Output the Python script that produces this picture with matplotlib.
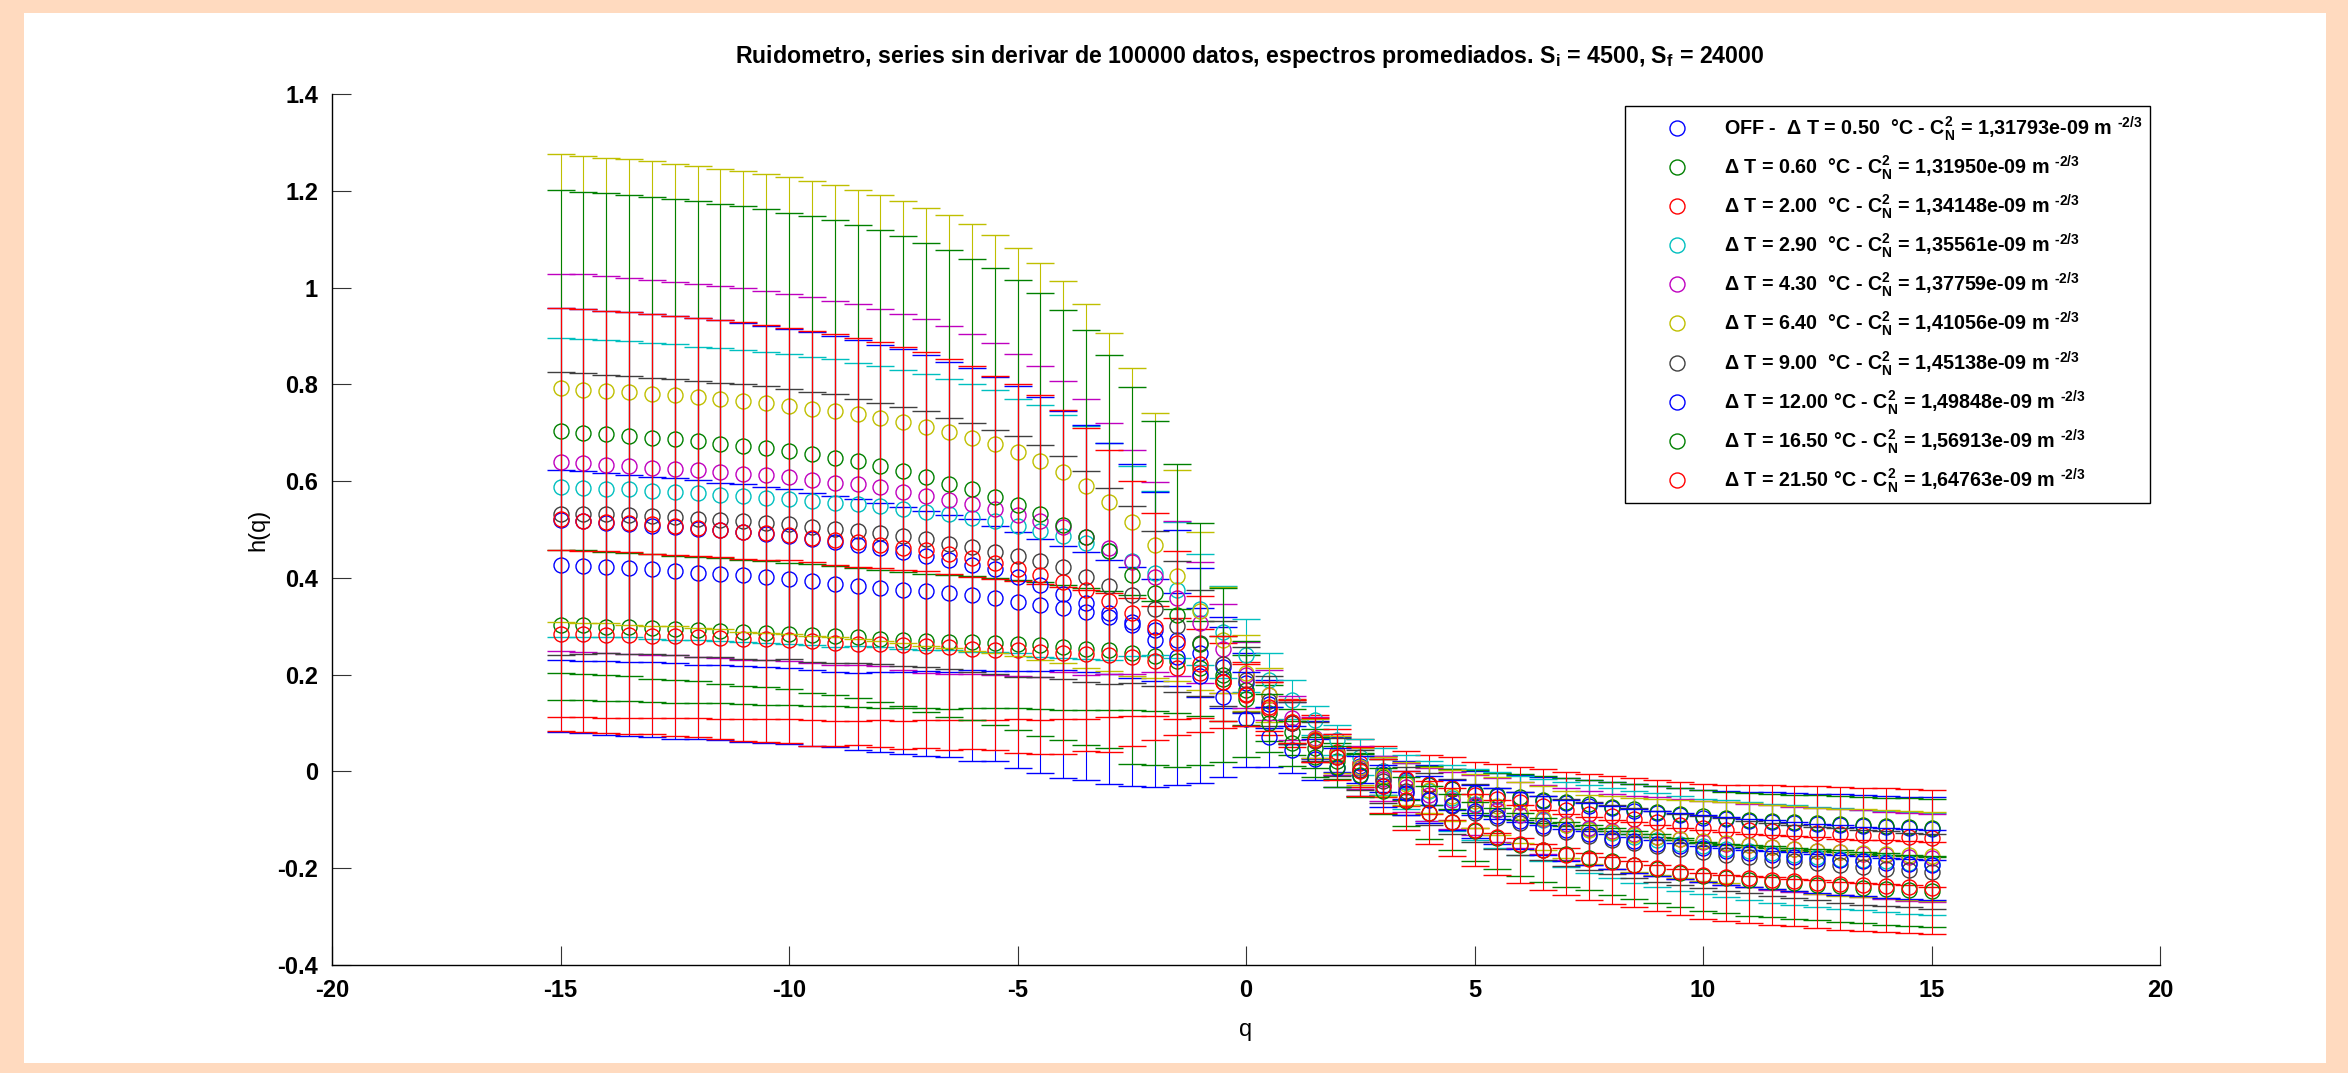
import numpy as np
import matplotlib
matplotlib.use('Agg')
import matplotlib.pyplot as plt
from matplotlib.patches import Rectangle

plt.rcParams['font.family'] = ['Liberation Sans', 'DejaVu Sans']
plt.rcParams['font.weight'] = 'bold'
plt.rcParams['axes.unicode_minus'] = False
plt.rcParams['mathtext.fontset'] = 'custom'
plt.rcParams['mathtext.rm'] = 'Liberation Sans:bold'
plt.rcParams['mathtext.it'] = 'Liberation Sans:bold:italic'
plt.rcParams['mathtext.bf'] = 'Liberation Sans:bold'
plt.rcParams['mathtext.default'] = 'rm'

q = np.arange(-15, 15.5, 0.5)

# h(q) and error for each temperature step (blue, green, red, cyan, magenta, yellow, gray, blue, green, red)
h_off = [0.427, 0.424, 0.422, 0.420, 0.418, 0.415, 0.411, 0.409, 0.405, 0.402, 0.398, 0.393, 0.388, 0.384, 0.380, 0.376, 0.373, 0.368, 0.365, 0.358, 0.351, 0.344,
         0.338, 0.330, 0.320, 0.308, 0.292, 0.272, 0.245, 0.215, 0.182,
         0.140, 0.100, 0.065, 0.035, 0.012, -0.005, -0.018, -0.028, -0.037, -0.044, -0.051, -0.056, -0.061, -0.066, -0.071, -0.076, -0.081, -0.086, -0.091, -0.096, -0.099, -0.102, -0.104, -0.106, -0.108, -0.110, -0.112, -0.114, -0.116, -0.118]
e_off = [0.196, 0.196, 0.194, 0.193, 0.191, 0.191, 0.191, 0.188, 0.188, 0.186, 0.185, 0.183, 0.182, 0.180, 0.174, 0.171, 0.166, 0.162, 0.156, 0.150, 0.143, 0.136,
         0.128, 0.124, 0.118, 0.114, 0.106, 0.096, 0.092, 0.083, 0.062,
         0.050, 0.043, 0.039, 0.037, 0.036, 0.037, 0.039, 0.041, 0.043, 0.045, 0.047, 0.049, 0.050, 0.052, 0.053, 0.054, 0.055, 0.056, 0.057, 0.058, 0.059, 0.060, 0.061, 0.061, 0.062, 0.063, 0.063, 0.064, 0.064, 0.065]

h_060 = [0.303, 0.302, 0.299, 0.298, 0.296, 0.294, 0.292, 0.291, 0.289, 0.286, 0.284, 0.282, 0.280, 0.277, 0.274, 0.272, 0.270, 0.268, 0.267, 0.265, 0.263, 0.261,
         0.257, 0.254, 0.250, 0.245, 0.238, 0.228, 0.213, 0.192, 0.168,
         0.120, 0.082, 0.048, 0.022, 0.003, -0.011, -0.021, -0.029, -0.036, -0.042, -0.048, -0.053, -0.058, -0.063, -0.068, -0.073, -0.078, -0.083, -0.088, -0.093, -0.097, -0.100, -0.103, -0.105, -0.107, -0.109, -0.111, -0.113, -0.115, -0.117]
e_060 = [0.155, 0.155, 0.154, 0.153, 0.153, 0.152, 0.151, 0.150, 0.149, 0.148, 0.147, 0.146, 0.145, 0.144, 0.142, 0.141, 0.139, 0.138, 0.136, 0.134, 0.132, 0.131,
         0.129, 0.126, 0.123, 0.119, 0.114, 0.107, 0.098, 0.087, 0.073,
         0.058, 0.047, 0.040, 0.037, 0.036, 0.037, 0.039, 0.041, 0.042, 0.044, 0.045, 0.047, 0.048, 0.049, 0.050, 0.051, 0.052, 0.053, 0.054, 0.054, 0.055, 0.056, 0.056, 0.057, 0.058, 0.058, 0.059, 0.059, 0.060, 0.060]

h_200 = [0.285, 0.284, 0.283, 0.282, 0.280, 0.279, 0.278, 0.276, 0.274, 0.273, 0.272, 0.269, 0.266, 0.264, 0.263, 0.261, 0.260, 0.257, 0.254, 0.252, 0.251, 0.247,
         0.245, 0.242, 0.240, 0.237, 0.228, 0.213, 0.203, 0.185, 0.160,
         0.130, 0.100, 0.068, 0.040, 0.018, 0.000, -0.015, -0.026, -0.035, -0.048, -0.056, -0.064, -0.072, -0.080, -0.087, -0.093, -0.099, -0.105, -0.111, -0.117, -0.120, -0.122, -0.124, -0.126, -0.128, -0.130, -0.132, -0.134, -0.136, -0.138]
e_200 = [0.173, 0.172, 0.172, 0.171, 0.170, 0.169, 0.168, 0.167, 0.166, 0.165, 0.164, 0.163, 0.161, 0.159, 0.157, 0.156, 0.154, 0.151, 0.148, 0.146, 0.143, 0.140,
         0.137, 0.133, 0.128, 0.122, 0.114, 0.104, 0.092, 0.080, 0.066,
         0.055, 0.050, 0.048, 0.048, 0.050, 0.053, 0.057, 0.061, 0.065, 0.068, 0.071, 0.074, 0.077, 0.079, 0.082, 0.084, 0.086, 0.088, 0.090, 0.092, 0.093, 0.094, 0.095, 0.096, 0.097, 0.098, 0.098, 0.099, 0.099, 0.100]

h_290 = [0.587, 0.586, 0.584, 0.583, 0.580, 0.577, 0.575, 0.572, 0.569, 0.566, 0.563, 0.559, 0.555, 0.552, 0.548, 0.542, 0.536, 0.531, 0.524, 0.517, 0.507, 0.497,
         0.486, 0.473, 0.455, 0.435, 0.410, 0.375, 0.335, 0.288, 0.240,
         0.189, 0.148, 0.106, 0.065, 0.030, 0.000, -0.022, -0.040, -0.055, -0.068, -0.080, -0.091, -0.101, -0.110, -0.119, -0.127, -0.135, -0.142, -0.149, -0.155, -0.160, -0.165, -0.169, -0.173, -0.177, -0.180, -0.183, -0.186, -0.189, -0.191]
e_290 = [0.309, 0.308, 0.307, 0.306, 0.306, 0.306, 0.303, 0.303, 0.302, 0.301, 0.300, 0.298, 0.297, 0.293, 0.290, 0.288, 0.286, 0.281, 0.277, 0.271, 0.262, 0.261,
         0.251, 0.241, 0.224, 0.196, 0.170, 0.140, 0.115, 0.095, 0.076,
         0.055, 0.040, 0.030, 0.031, 0.038, 0.048, 0.055, 0.062, 0.068, 0.073, 0.078, 0.082, 0.085, 0.088, 0.091, 0.093, 0.095, 0.097, 0.098, 0.099, 0.100, 0.101, 0.102, 0.103, 0.103, 0.104, 0.104, 0.105, 0.105, 0.106]

h_430 = [0.639, 0.637, 0.634, 0.631, 0.628, 0.626, 0.622, 0.619, 0.615, 0.612, 0.608, 0.602, 0.597, 0.593, 0.587, 0.577, 0.569, 0.561, 0.553, 0.542, 0.530, 0.517,
         0.506, 0.485, 0.461, 0.433, 0.402, 0.358, 0.307, 0.254, 0.200,
         0.158, 0.110, 0.070, 0.035, 0.008, -0.015, -0.033, -0.048, -0.060, -0.070, -0.080, -0.090, -0.099, -0.108, -0.117, -0.124, -0.130, -0.135, -0.140, -0.145, -0.149, -0.153, -0.157, -0.161, -0.164, -0.167, -0.170, -0.173, -0.176, -0.178]
e_430 = [0.390, 0.390, 0.389, 0.389, 0.388, 0.386, 0.386, 0.384, 0.384, 0.381, 0.379, 0.378, 0.376, 0.372, 0.369, 0.368, 0.365, 0.359, 0.351, 0.343, 0.333, 0.321,
         0.301, 0.285, 0.260, 0.231, 0.196, 0.160, 0.125, 0.092, 0.068,
         0.052, 0.045, 0.042, 0.042, 0.044, 0.047, 0.051, 0.055, 0.059, 0.062, 0.066, 0.069, 0.072, 0.074, 0.076, 0.078, 0.080, 0.082, 0.083, 0.084, 0.085, 0.086, 0.087, 0.088, 0.089, 0.089, 0.090, 0.090, 0.091, 0.091]

h_640 = [0.792, 0.789, 0.787, 0.784, 0.781, 0.778, 0.774, 0.770, 0.765, 0.761, 0.756, 0.750, 0.745, 0.738, 0.730, 0.722, 0.712, 0.702, 0.690, 0.677, 0.660, 0.641,
         0.619, 0.590, 0.557, 0.516, 0.467, 0.404, 0.332, 0.272, 0.203,
         0.158, 0.103, 0.068, 0.035, 0.010, -0.010, -0.025, -0.038, -0.050, -0.061, -0.072, -0.084, -0.097, -0.110, -0.120, -0.126, -0.131, -0.136, -0.140, -0.144, -0.147, -0.152, -0.156, -0.160, -0.164, -0.167, -0.169, -0.171, -0.173, -0.175]
e_640 = [0.484, 0.483, 0.481, 0.481, 0.480, 0.478, 0.477, 0.476, 0.476, 0.474, 0.472, 0.471, 0.467, 0.464, 0.461, 0.457, 0.453, 0.447, 0.441, 0.432, 0.422, 0.410,
         0.394, 0.377, 0.350, 0.318, 0.273, 0.218, 0.163, 0.110, 0.079,
         0.055, 0.045, 0.040, 0.038, 0.038, 0.040, 0.044, 0.048, 0.052, 0.056, 0.060, 0.063, 0.066, 0.069, 0.072, 0.075, 0.077, 0.079, 0.081, 0.083, 0.084, 0.086, 0.087, 0.088, 0.089, 0.090, 0.091, 0.091, 0.092, 0.092]

h_900 = [0.533, 0.533, 0.532, 0.530, 0.528, 0.525, 0.522, 0.520, 0.517, 0.513, 0.511, 0.506, 0.502, 0.497, 0.492, 0.486, 0.480, 0.471, 0.463, 0.454, 0.445, 0.435,
         0.422, 0.402, 0.383, 0.365, 0.336, 0.300, 0.265, 0.223, 0.190,
         0.145, 0.100, 0.062, 0.030, 0.003, -0.020, -0.040, -0.057, -0.072, -0.085, -0.097, -0.107, -0.117, -0.126, -0.134, -0.141, -0.148, -0.155, -0.161, -0.167, -0.172, -0.177, -0.182, -0.186, -0.190, -0.194, -0.198, -0.201, -0.204, -0.207]
e_900 = [0.292, 0.290, 0.288, 0.287, 0.286, 0.285, 0.285, 0.283, 0.284, 0.283, 0.279, 0.279, 0.277, 0.273, 0.270, 0.268, 0.264, 0.260, 0.257, 0.252, 0.249, 0.240,
         0.230, 0.218, 0.203, 0.183, 0.160, 0.135, 0.110, 0.088, 0.068,
         0.052, 0.043, 0.040, 0.040, 0.042, 0.045, 0.049, 0.053, 0.057, 0.060, 0.063, 0.065, 0.067, 0.069, 0.070, 0.071, 0.072, 0.073, 0.074, 0.074, 0.075, 0.075, 0.076, 0.076, 0.076, 0.077, 0.077, 0.077, 0.077, 0.077]

h_1200 = [0.520, 0.517, 0.514, 0.511, 0.508, 0.505, 0.502, 0.498, 0.494, 0.490, 0.486, 0.480, 0.475, 0.468, 0.461, 0.454, 0.446, 0.438, 0.427, 0.418, 0.402, 0.385,
          0.366, 0.349, 0.327, 0.303, 0.272, 0.236, 0.198, 0.154, 0.108,
          0.072, 0.045, 0.025, 0.008, -0.010, -0.030, -0.045, -0.058, -0.070, -0.082, -0.092, -0.102, -0.112, -0.122, -0.130, -0.137, -0.143, -0.149, -0.154, -0.159, -0.164, -0.168, -0.172, -0.176, -0.180, -0.183, -0.186, -0.189, -0.191, -0.193]
e_1200 = [0.438, 0.438, 0.438, 0.438, 0.437, 0.437, 0.435, 0.434, 0.433, 0.431, 0.429, 0.428, 0.425, 0.424, 0.421, 0.418, 0.414, 0.409, 0.406, 0.397, 0.394, 0.388,
          0.379, 0.367, 0.352, 0.333, 0.305, 0.264, 0.222, 0.166, 0.098,
          0.062, 0.048, 0.042, 0.040, 0.041, 0.043, 0.046, 0.049, 0.052, 0.055, 0.057, 0.059, 0.061, 0.063, 0.064, 0.065, 0.066, 0.067, 0.068, 0.069, 0.070, 0.070, 0.071, 0.071, 0.072, 0.072, 0.072, 0.073, 0.073, 0.073]

h_1650 = [0.703, 0.700, 0.697, 0.694, 0.690, 0.686, 0.682, 0.677, 0.672, 0.668, 0.662, 0.655, 0.648, 0.641, 0.631, 0.621, 0.608, 0.595, 0.583, 0.568, 0.551, 0.531,
          0.509, 0.484, 0.455, 0.405, 0.369, 0.323, 0.263, 0.200, 0.150,
          0.100, 0.058, 0.030, 0.010, -0.008, -0.040, -0.062, -0.085, -0.105, -0.124, -0.138, -0.151, -0.162, -0.171, -0.178, -0.186, -0.193, -0.201, -0.209, -0.217, -0.221, -0.225, -0.228, -0.231, -0.234, -0.237, -0.240, -0.243, -0.246, -0.248]
e_1650 = [0.499, 0.498, 0.498, 0.497, 0.498, 0.497, 0.496, 0.496, 0.496, 0.494, 0.492, 0.493, 0.491, 0.489, 0.488, 0.485, 0.485, 0.482, 0.477, 0.472, 0.465, 0.458,
          0.445, 0.429, 0.406, 0.390, 0.355, 0.313, 0.250, 0.180, 0.120,
          0.060, 0.046, 0.042, 0.042, 0.044, 0.047, 0.051, 0.055, 0.058, 0.061, 0.063, 0.065, 0.066, 0.067, 0.068, 0.069, 0.070, 0.071, 0.071, 0.072, 0.072, 0.073, 0.073, 0.073, 0.074, 0.074, 0.074, 0.074, 0.074, 0.074]

h_2150 = [0.521, 0.518, 0.516, 0.513, 0.511, 0.508, 0.504, 0.500, 0.495, 0.492, 0.488, 0.482, 0.478, 0.475, 0.469, 0.462, 0.458, 0.449, 0.442, 0.431, 0.419, 0.407,
          0.392, 0.376, 0.352, 0.327, 0.299, 0.265, 0.222, 0.185, 0.158,
          0.134, 0.103, 0.065, 0.030, 0.000, -0.030, -0.060, -0.085, -0.105, -0.121, -0.136, -0.150, -0.162, -0.172, -0.180, -0.187, -0.193, -0.200, -0.207, -0.213, -0.218, -0.221, -0.224, -0.227, -0.230, -0.233, -0.235, -0.237, -0.238, -0.240]
e_2150 = [0.437, 0.437, 0.436, 0.436, 0.434, 0.434, 0.433, 0.433, 0.433, 0.431, 0.429, 0.429, 0.425, 0.421, 0.418, 0.415, 0.409, 0.404, 0.396, 0.387, 0.381, 0.370,
          0.355, 0.333, 0.312, 0.274, 0.235, 0.190, 0.140, 0.095, 0.065,
          0.050, 0.045, 0.045, 0.047, 0.050, 0.055, 0.060, 0.065, 0.070, 0.074, 0.077, 0.080, 0.082, 0.084, 0.086, 0.087, 0.088, 0.089, 0.090, 0.091, 0.092, 0.092, 0.093, 0.093, 0.094, 0.094, 0.094, 0.095, 0.095, 0.095]

labels = [
    'OFF -  \u0394 T = 0.50  \u00b0C - C$_{N}^{2}$ = 1,31793e-09 m $^{\\text{-2/3}}$',
    '\u0394 T = 0.60  \u00b0C - C$_{N}^{2}$ = 1,31950e-09 m $^{\\text{-2/3}}$',
    '\u0394 T = 2.00  \u00b0C - C$_{N}^{2}$ = 1,34148e-09 m $^{\\text{-2/3}}$',
    '\u0394 T = 2.90  \u00b0C - C$_{N}^{2}$ = 1,35561e-09 m $^{\\text{-2/3}}$',
    '\u0394 T = 4.30  \u00b0C - C$_{N}^{2}$ = 1,37759e-09 m $^{\\text{-2/3}}$',
    '\u0394 T = 6.40  \u00b0C - C$_{N}^{2}$ = 1,41056e-09 m $^{\\text{-2/3}}$',
    '\u0394 T = 9.00  \u00b0C - C$_{N}^{2}$ = 1,45138e-09 m $^{\\text{-2/3}}$',
    '\u0394 T = 12.00 \u00b0C - C$_{N}^{2}$ = 1,49848e-09 m $^{\\text{-2/3}}$',
    '\u0394 T = 16.50 \u00b0C - C$_{N}^{2}$ = 1,56913e-09 m $^{\\text{-2/3}}$',
    '\u0394 T = 21.50 \u00b0C - C$_{N}^{2}$ = 1,64763e-09 m $^{\\text{-2/3}}$',
]
series_h = [h_off, h_060, h_200, h_290, h_430, h_640, h_900, h_1200, h_1650, h_2150]
series_e = [e_off, e_060, e_200, e_290, e_430, e_640, e_900, e_1200, e_1650, e_2150]
# old matlab colour order b g r c m y k
colors = [(0, 0, 1), (0, 0.5, 0), (1, 0, 0), (0, 0.75, 0.75), (0.75, 0, 0.75),
          (0.75, 0.75, 0), (0.25, 0.25, 0.25), (0, 0, 1), (0, 0.5, 0), (1, 0, 0)]

W, H = 2348, 1073
fig = plt.figure(figsize=(W / 100, H / 100), dpi=100)
fig.patch.set_facecolor('#FFDABF')
fig.add_artist(Rectangle((24 / W, 1 - 1063 / H), (2326 - 24) / W, (1063 - 13) / H,
                         transform=fig.transFigure, facecolor='white', edgecolor='none', zorder=-5))

ax = fig.add_axes([332 / W, 1 - 965 / H, 1828 / W, 871 / H])

handles = []
for i, (h, e, c) in enumerate(zip(series_h, series_e, colors)):
    cont = ax.errorbar(q, h, yerr=e, fmt='o', color=c, mfc='none', mec=c, ms=10.8, mew=1.0,
                       elinewidth=0.8, capsize=9.9, capthick=1.0, zorder=2 + i * 0.1)
    handles.append(cont[0])

ax.set_xlim(-20, 20)
ax.set_ylim(-0.4, 1.4)
ax.set_xticks(np.arange(-20, 21, 5))
yt = [-0.4, -0.2, 0, 0.2, 0.4, 0.6, 0.8, 1.0, 1.2, 1.4]
ax.set_yticks(yt)
ax.set_yticklabels(['-0.4', '-0.2', '0', '0.2', '0.4', '0.6', '0.8', '1', '1.2', '1.4'])
ax.tick_params(direction='in', length=14, width=0.8, labelsize=17, pad=10, color='#333333')
ax.spines['top'].set_visible(False)
ax.spines['right'].set_visible(False)
for s in ('left', 'bottom'):
    ax.spines[s].set_linewidth(1.0)

ax.set_xlabel('q', fontsize=17, va='center')
ax.xaxis.set_label_coords(0.5, -0.0746)
ax.set_ylabel('h(q)', fontsize=17, va='center')
ax.yaxis.set_label_coords(-0.0405, 0.5)

# title sits over the axes centre
fig.text(1250 / W, 1 - 56 / H,
         'Ruidometro, series sin derivar de 100000 datos, espectros promediados. '
         'S$_{i}$ = 4500, S$_{f}$ = 24000',
         ha='center', va='center', fontsize=16.7)

leg = ax.legend(handles, labels, loc='upper right', bbox_to_anchor=(2150 / W, 1 - 106 / H),
                bbox_transform=fig.transFigure, fontsize=14.2, handlelength=4.5,
                handletextpad=0.12, labelspacing=0.53, borderpad=0.4, borderaxespad=0,
                fancybox=False, framealpha=1, edgecolor='black')
leg.get_frame().set_linewidth(1.0)

plt.savefig('out.png', dpi=100, facecolor=fig.get_facecolor())
